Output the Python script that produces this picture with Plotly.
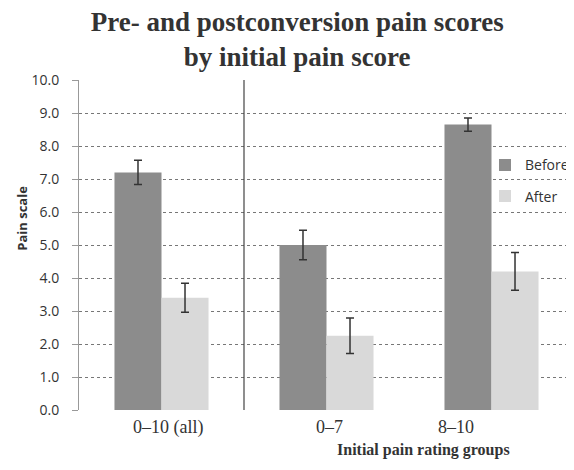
import plotly.graph_objects as go

categories = ["0–10 (all)", "0–7", "8–10"]
before = [7.2, 5.0, 8.65]
before_err = [0.37, 0.45, 0.2]
after = [3.4, 2.25, 4.2]
after_err = [0.44, 0.54, 0.57]
y_ticks = [0, 1, 2, 3, 4, 5, 6, 7, 8, 9, 10]

xpos = list(range(len(categories)))
sans = "Open Sans, Liberation Sans, sans-serif"
serif = "Liberation Serif, Times New Roman, serif"

fig = go.Figure()
fig.add_trace(go.Bar(
    x=xpos, y=before, name="Before", legendgroup="b",
    marker=dict(color="#8c8c8c", line=dict(width=0)),
    error_y=dict(type="data", array=before_err, color="#333333", thickness=1.5, width=4),
))
fig.add_trace(go.Bar(
    x=xpos, y=after, name="After", legendgroup="a",
    marker=dict(color="#d9d9d9", line=dict(width=0)),
    error_y=dict(type="data", array=after_err, color="#333333", thickness=1.5, width=4),
))

# category labels
label_shift = [6, 3, -36]
for i, c in enumerate(categories):
    fig.add_annotation(x=xpos[i], y=0, xref="x", yref="y", text=c, showarrow=False,
                       yshift=-17, xshift=label_shift[i], yanchor="middle",
                       font=dict(family=serif, size=18, color="#333333"))

# divider line between "all" and subgroups
fig.add_shape(type="line", xref="x", yref="y", x0=0.5, x1=0.5, y0=-0.45, y1=10,
              line=dict(color="#444444", width=1.2))

fig.add_annotation(xref="paper", yref="paper", x=0.695, y=-0.121, text="<b>Initial pain rating groups</b>",
                   showarrow=False, xanchor="center", yanchor="middle",
                   font=dict(family=serif, size=16, color="#333333"))
fig.add_annotation(xref="paper", yref="paper", x=-0.115, y=0.58, text="<b>Pain scale</b>",
                   textangle=-90, showarrow=False, xanchor="center", yanchor="middle",
                   font=dict(family=sans, size=13, color="#333333"))

fig.update_layout(
    width=566, height=462,
    margin=dict(l=71, r=0, t=72, b=60),
    paper_bgcolor="white", plot_bgcolor="white",
    barmode="group", bargap=0.43, bargroupgap=0,
    title=dict(text="<b>Pre- and postconversion pain scores<br>by initial pain score</b>",
               x=0.511, xanchor="center", y=0.95, yanchor="top",
               font=dict(family=serif, size=27, color="#333333")),
    showlegend=True,
    legend=dict(x=1.0, y=0.79, xanchor="right", yanchor="top", bgcolor="rgba(0,0,0,0)",
                tracegroupgap=10, font=dict(family=sans, size=14, color="#333333")),
    xaxis=dict(range=[-0.5, 2.5], tickvals=xpos, showticklabels=False, showgrid=False,
               zeroline=False, showline=False),
    yaxis=dict(range=[0, 10], tickvals=y_ticks, tickformat=".1f", showgrid=True,
               gridcolor="#777777", griddash="dot", gridwidth=1,
               zeroline=False, showline=True, linecolor="#999999", linewidth=1,
               ticks="outside", ticklen=6, tickcolor="#999999", ticklabelstandoff=10,
               tickfont=dict(family=sans, size=14, color="#333333")),
)

fig.write_html("out.html")
